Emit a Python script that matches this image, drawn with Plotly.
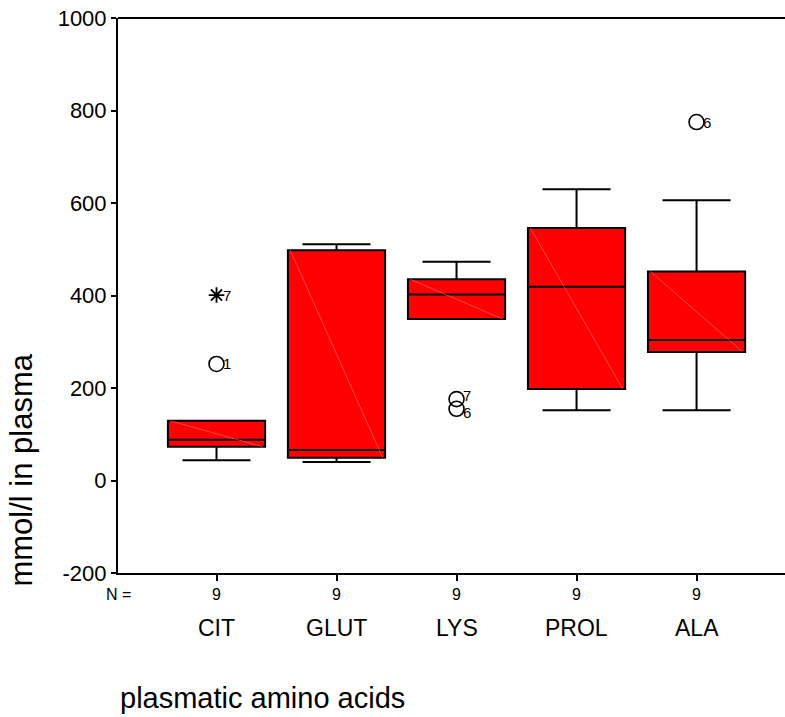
import plotly.graph_objects as go

# Plasma amino-acid concentrations (mmol/l), summarised per amino acid
categories = ["CIT", "GLUT", "LYS", "PROL", "ALA"]
n_counts = [9, 9, 9, 9, 9]
lower_whisker = [44, 40, 349, 152, 152]
q1 = [73, 49, 349, 198, 278]
median = [88, 66, 402, 419, 304]
q3 = [129, 498, 435, 546, 452]
upper_whisker = [129, 511, 473, 630, 606]

# Outliers (o) and extremes (*) with their case numbers
outlier_cat = [0, 2, 2, 4]
outlier_val = [252, 176, 155, 775]
outlier_case = ["1", "7", "6", "6"]
extreme_cat = [0]
extreme_val = [401]
extreme_case = ["7"]

y_ticks = [-200, 0, 200, 400, 600, 800, 1000]
y_tick_text = ["-200", "0", "200", "400", "600", "800", "1000"]

FONT = "Arial, Liberation Sans, Helvetica, sans-serif"
pos = list(range(len(categories)))
BOX_W = 0.81

fig = go.Figure()

for i, name in enumerate(categories):
    fig.add_trace(go.Box(
        x=[pos[i]],
        q1=[q1[i]], median=[median[i]], q3=[q3[i]],
        lowerfence=[lower_whisker[i]], upperfence=[upper_whisker[i]],
        width=BOX_W, whiskerwidth=0.7,
        fillcolor="#ff0000",
        line=dict(color="black", width=2),
        boxpoints=False, name=name, showlegend=False, hoverinfo="skip",
    ))

# faint diagonal seam across each filled box
for i in range(len(categories)):
    fig.add_trace(go.Scatter(
        x=[pos[i] - BOX_W / 2 + 0.02, pos[i] + BOX_W / 2 - 0.02],
        y=[q3[i], q1[i]],
        mode="lines", line=dict(color="#ff7a7a", width=0.6),
        showlegend=False, hoverinfo="skip",
    ))

fig.add_trace(go.Scatter(
    x=[pos[c] for c in outlier_cat], y=outlier_val,
    mode="markers",
    marker=dict(symbol="circle-open", size=15, color="black", line=dict(width=1.6)),
    showlegend=False, hoverinfo="skip",
))
fig.add_trace(go.Scatter(
    x=[pos[c] for c in extreme_cat], y=extreme_val,
    mode="markers",
    marker=dict(symbol="asterisk-open", size=13, color="black", line=dict(width=1.8)),
    showlegend=False, hoverinfo="skip",
))

# case-number labels; labels of neighbouring points in one column are nudged apart
pts = list(zip(outlier_cat + extreme_cat, outlier_val + extreme_val, outlier_case + extreme_case))
annotations = []
for c, v, t in pts:
    shift = 0
    for c2, v2, _ in pts:
        if c2 == c and v2 != v and abs(v2 - v) < 40:
            shift = 4 if v > v2 else -4
    annotations.append(dict(
        x=pos[c], y=v, text=t, showarrow=False, xanchor="left", xshift=4, yshift=shift,
        font=dict(family=FONT, size=15, color="black"),
    ))

# category names under the N row
for i, name in enumerate(categories):
    annotations.append(dict(
        x=pos[i], y=-200, yref="y", text=name, showarrow=False,
        yanchor="middle", yshift=-55,
        font=dict(family=FONT, size=23, color="black"),
    ))

annotations.append(dict(
    x=0, xref="paper", y=-200, text="N =", showarrow=False,
    xanchor="center", yanchor="middle", yshift=-21,
    font=dict(family=FONT, size=16, color="black"),
))

annotations.append(dict(
    x=-0.145, xref="paper", y=0.185, yref="paper", text="mmol/l in plasma",
    textangle=-90, showarrow=False, xanchor="center", yanchor="middle",
    font=dict(family=FONT, size=31, color="black"),
))
annotations.append(dict(
    x=0.0, xref="paper", y=-0.226, yref="paper", text="plasmatic amino acids",
    showarrow=False, xanchor="left", yanchor="middle",
    font=dict(family=FONT, size=29, color="black"),
))

fig.update_layout(
    width=785, height=717,
    margin=dict(l=118, r=0, t=18, b=144),
    paper_bgcolor="white", plot_bgcolor="white",
    showlegend=False,
    annotations=annotations,
    shapes=[dict(type="line", xref="paper", yref="paper", x0=0, x1=1, y0=1, y1=1,
                 line=dict(color="black", width=2))],
)

fig.update_xaxes(
    range=[-0.8208, 4.737],
    tickvals=pos, ticktext=[str(n) for n in n_counts],
    ticks="outside", ticklen=6, tickwidth=1.5, tickcolor="black",
    tickfont=dict(family=FONT, size=16, color="black"),
    showline=True, linecolor="black", linewidth=2,
    showgrid=False, zeroline=False,
)
fig.update_yaxes(
    range=[-200, 1000], tickvals=y_ticks, ticktext=y_tick_text,
    ticks="outside", ticklen=5, tickwidth=1.5, tickcolor="black",
    tickfont=dict(family=FONT, size=22, color="black"),
    showline=True, linecolor="black", linewidth=2,
    showgrid=False, zeroline=False,
)

fig.write_html("out.html")
